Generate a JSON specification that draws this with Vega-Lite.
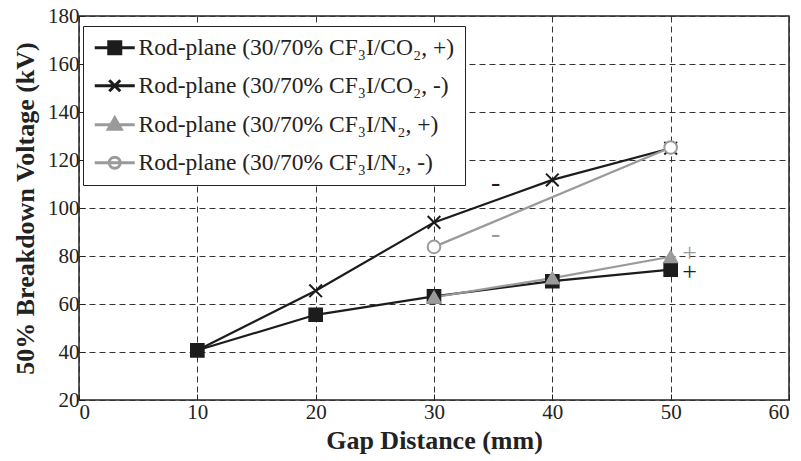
{
  "$schema": "https://vega.github.io/schema/vega-lite/v6.json",
  "width": 710,
  "height": 384,
  "autosize": "none",
  "padding": {"left": 79, "top": 16, "right": 12, "bottom": 61},
  "background": "white",
  "config": {
    "font": "Liberation Serif",
    "view": {"stroke": "#222222", "strokeWidth": 1.5},
    "axis": {
      "labelFont": "Liberation Serif",
      "labelFontSize": 21,
      "labelColor": "#222222",
      "titleFont": "Liberation Serif",
      "titleFontSize": 26,
      "titleFontWeight": "bold",
      "titleColor": "#222222",
      "domain": false,
      "grid": true,
      "gridColor": "#333333",
      "gridDash": [6, 4],
      "gridWidth": 1,
      "tickColor": "#222222",
      "tickSize": -6,
      "tickWidth": 1
    },
    "legend": {
      "orient": "none",
      "legendX": 4,
      "legendY": 10,
      "padding": 10,
      "strokeColor": "#222222",
      "fillColor": "white",
      "labelFont": "Liberation Serif",
      "labelFontSize": 23.5,
      "labelColor": "#222222",
      "labelLimit": 400,
      "symbolSize": 400,
      "symbolStrokeWidth": 3,
      "labelOffset": 22,
      "rowPadding": 13,
      "symbolOpacity": 1
    }
  },
  "datasets": {
    "series": [
      {"series": "Rod-plane (30/70% CF₃I/CO₂, +)", "gap": 10, "voltage": 40.7},
      {"series": "Rod-plane (30/70% CF₃I/CO₂, +)", "gap": 20, "voltage": 55.5},
      {"series": "Rod-plane (30/70% CF₃I/CO₂, +)", "gap": 30, "voltage": 63.2},
      {"series": "Rod-plane (30/70% CF₃I/CO₂, +)", "gap": 40, "voltage": 69.5},
      {"series": "Rod-plane (30/70% CF₃I/CO₂, +)", "gap": 50, "voltage": 74.3},
      {"series": "Rod-plane (30/70% CF₃I/CO₂, -)", "gap": 10, "voltage": 40.7},
      {"series": "Rod-plane (30/70% CF₃I/CO₂, -)", "gap": 20, "voltage": 65.5},
      {"series": "Rod-plane (30/70% CF₃I/CO₂, -)", "gap": 30, "voltage": 94.0},
      {"series": "Rod-plane (30/70% CF₃I/CO₂, -)", "gap": 40, "voltage": 111.7},
      {"series": "Rod-plane (30/70% CF₃I/CO₂, -)", "gap": 50, "voltage": 124.9},
      {"series": "Rod-plane (30/70% CF₃I/N₂, +)", "gap": 30, "voltage": 62.8},
      {"series": "Rod-plane (30/70% CF₃I/N₂, +)", "gap": 40, "voltage": 70.8},
      {"series": "Rod-plane (30/70% CF₃I/N₂, +)", "gap": 50, "voltage": 79.7},
      {"series": "Rod-plane (30/70% CF₃I/N₂, -)", "gap": 30, "voltage": 83.8},
      {"series": "Rod-plane (30/70% CF₃I/N₂, -)", "gap": 50, "voltage": 125.2}
    ],
    "marks": [
      {"series": "Rod-plane (30/70% CF₃I/CO₂, -)", "gap": 35.2, "voltage": 110.3, "label": "-"},
      {"series": "Rod-plane (30/70% CF₃I/N₂, -)", "gap": 35.2, "voltage": 89.2, "label": "-"},
      {"series": "Rod-plane (30/70% CF₃I/N₂, +)", "gap": 51.6, "voltage": 81.1, "label": "+"},
      {"series": "Rod-plane (30/70% CF₃I/CO₂, +)", "gap": 51.6, "voltage": 73.5, "label": "+"}
    ]
  },
  "resolve": {
    "scale": {"shape": "independent", "fill": "independent", "stroke": "independent"},
    "legend": {"shape": "independent", "fill": "independent", "stroke": "independent"}
  },
  "layer": [
    {
      "data": {"name": "series"},
      "mark": {"type": "line", "strokeWidth": 2.2},
      "encoding": {
        "x": {
          "field": "gap", "type": "quantitative",
          "scale": {"domain": [0, 60], "nice": false},
          "axis": {"values": [0, 10, 20, 30, 40, 50, 60], "title": "Gap Distance (mm)", "labelPadding": 7, "titlePadding": 5}
        },
        "y": {
          "field": "voltage", "type": "quantitative",
          "scale": {"domain": [20, 180], "nice": false, "zero": false},
          "axis": {"values": [20, 40, 60, 80, 100, 120, 140, 160, 180], "title": "50% Breakdown Voltage (kV)", "labelPadding": 6, "titlePadding": 9}
        },
        "color": {
          "field": "series", "type": "nominal",
          "scale": {
            "domain": ["Rod-plane (30/70% CF₃I/CO₂, +)", "Rod-plane (30/70% CF₃I/CO₂, -)", "Rod-plane (30/70% CF₃I/N₂, +)", "Rod-plane (30/70% CF₃I/N₂, -)"],
            "range": ["#1c1c1c", "#1c1c1c", "#9a9a9a", "#9a9a9a"]
          },
          "legend": null
        }
      }
    },
    {
      "data": {"name": "series"},
      "mark": {"type": "point", "filled": false, "strokeWidth": 2, "opacity": 1},
      "encoding": {
        "x": {"field": "gap", "type": "quantitative"},
        "y": {"field": "voltage", "type": "quantitative"},
        "color": {"field": "series", "type": "nominal", "legend": null},
        "shape": {
          "field": "series", "type": "nominal",
          "scale": {
            "domain": ["Rod-plane (30/70% CF₃I/CO₂, +)", "Rod-plane (30/70% CF₃I/CO₂, -)", "Rod-plane (30/70% CF₃I/N₂, +)", "Rod-plane (30/70% CF₃I/N₂, -)"],
            "range": ["square", "M-1,-1L1,1M-1,1L1,-1", "triangle-up", "circle"]
          },
          "legend": null
        },
        "fill": {
          "field": "series", "type": "nominal",
          "scale": {
            "domain": ["Rod-plane (30/70% CF₃I/CO₂, +)", "Rod-plane (30/70% CF₃I/CO₂, -)", "Rod-plane (30/70% CF₃I/N₂, +)", "Rod-plane (30/70% CF₃I/N₂, -)"],
            "range": ["#1c1c1c", "transparent", "#9a9a9a", "#ffffff"]
          },
          "legend": null
        },
        "size": {"value": 160}
      }
    },
    {
      "data": {"name": "series"},
      "transform": [{"filter": "datum.gap < 0"}],
      "mark": {"type": "point", "filled": false, "opacity": 1},
      "encoding": {
        "x": {"field": "gap", "type": "quantitative"},
        "y": {"field": "voltage", "type": "quantitative"},
        "stroke": {
          "field": "series", "type": "nominal",
          "scale": {
            "domain": ["Rod-plane (30/70% CF₃I/CO₂, +)", "Rod-plane (30/70% CF₃I/CO₂, -)", "Rod-plane (30/70% CF₃I/N₂, +)", "Rod-plane (30/70% CF₃I/N₂, -)"],
            "range": ["#1c1c1c", "#1c1c1c", "#9a9a9a", "#9a9a9a"]
          },
          "legend": {"title": null}
        },
        "shape": {
          "field": "series", "type": "nominal",
          "scale": {
            "domain": ["Rod-plane (30/70% CF₃I/CO₂, +)", "Rod-plane (30/70% CF₃I/CO₂, -)", "Rod-plane (30/70% CF₃I/N₂, +)", "Rod-plane (30/70% CF₃I/N₂, -)"],
            "range": ["M-1,0H3M0.4,-0.6H1.6V0.6H0.4Z", "M-1,0H3M0.45,-0.55L1.55,0.55M0.45,0.55L1.55,-0.55", "M-1,0H3M1,-0.7L1.65,0.45H0.35Z", "M-1,0H3M1.55,0A0.55,0.55,0,1,1,0.45,0A0.55,0.55,0,1,1,1.55,0Z"]
          },
          "legend": {"title": null}
        },
        "fill": {
          "field": "series", "type": "nominal",
          "scale": {
            "domain": ["Rod-plane (30/70% CF₃I/CO₂, +)", "Rod-plane (30/70% CF₃I/CO₂, -)", "Rod-plane (30/70% CF₃I/N₂, +)", "Rod-plane (30/70% CF₃I/N₂, -)"],
            "range": ["#1c1c1c", "transparent", "#9a9a9a", "#ffffff"]
          },
          "legend": {"title": null}
        }
      }
    },
    {
      "data": {"name": "marks"},
      "mark": {"type": "text", "align": "center", "baseline": "middle"},
      "encoding": {
        "x": {"field": "gap", "type": "quantitative"},
        "y": {"field": "voltage", "type": "quantitative"},
        "text": {"field": "label"},
        "color": {"field": "series", "type": "nominal", "legend": null},
        "font": {"condition": {"test": "datum.label == '-'", "value": "DejaVu Sans"}, "value": "Liberation Serif"},
        "fontWeight": {"condition": {"test": "datum.label == '-'", "value": "bold"}, "value": "normal"},
        "size": {"condition": {"test": "datum.label == '-'", "value": 28}, "value": 26}
      }
    }
  ]
}
